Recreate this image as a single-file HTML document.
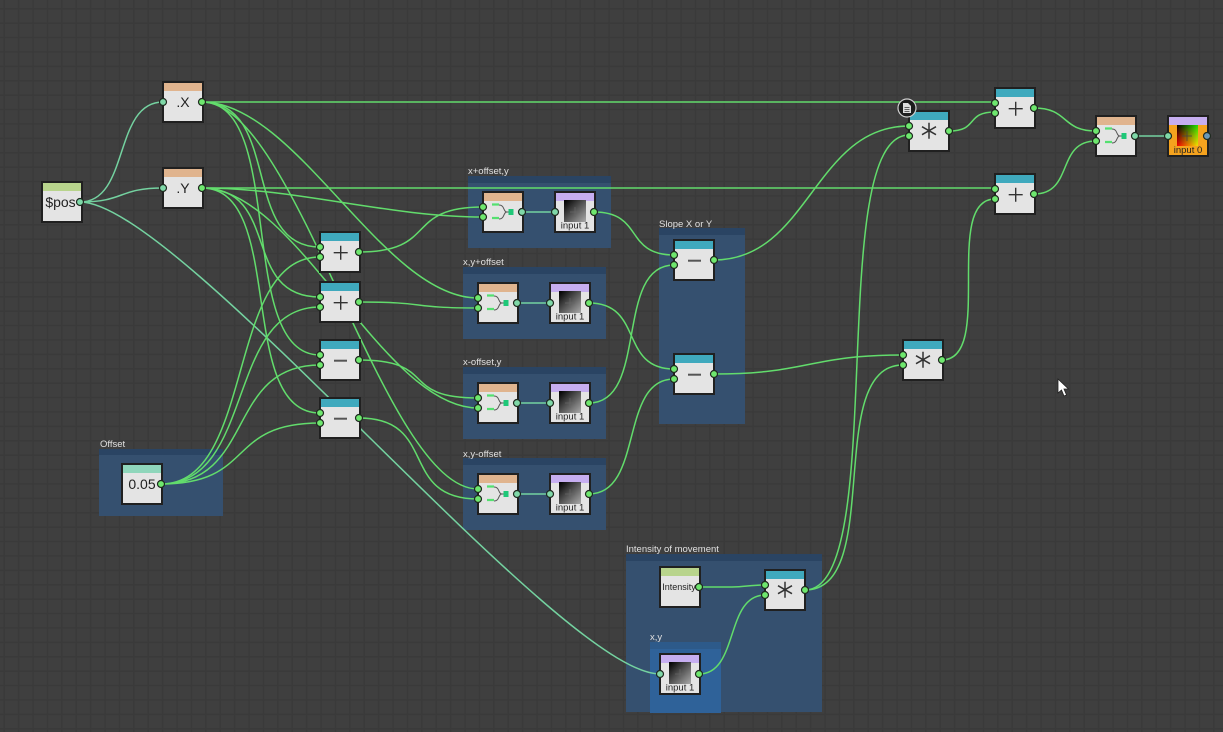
<!DOCTYPE html>
<html><head><meta charset="utf-8"><style>
html,body{margin:0;padding:0;background:#3f3f3f;width:1223px;height:732px;overflow:hidden}
svg{display:block}
text{font-family:"Liberation Sans",sans-serif}
.g{font-size:9.5px;fill:#e0e0e0}
.w path{fill:none;stroke:#62dc6c;stroke-width:1.5}
.t path{fill:none;stroke:#74d2a0;stroke-width:1.5}
.n{fill:#e4e4e4;stroke:#202020;stroke-width:2}
.p{fill:#6ee76e;stroke:#1f2a20;stroke-width:1.2}
.q{fill:#7fd8a8;stroke:#1f2a20;stroke-width:1.2}
.l{font-size:14px;fill:#222;text-anchor:middle}
.s{font-size:9.500px;fill:#222;text-anchor:middle}
</style></head><body>
<svg xmlns="http://www.w3.org/2000/svg" width="1223" height="732" viewBox="0 0 1223 732">
<defs>
<pattern id="grid" x="3.5" y="8" width="14.4" height="14.4" patternUnits="userSpaceOnUse">
<rect width="14.4" height="14.4" fill="#3f3f3f"/>
<rect x="0" width="1.5" height="14.4" fill="#3a3a3a"/>
<rect y="0" width="14.4" height="1.5" fill="#3a3a3a"/>
</pattern>
<linearGradient id="th" x1="0" y1="0" x2="1" y2="1"><stop offset="0.05" stop-color="#050505"/><stop offset="0.5" stop-color="#555"/><stop offset="1" stop-color="#aaa"/></linearGradient>
<linearGradient id="gh" x1="0" y1="0" x2="1" y2="0"><stop offset="0" stop-color="#000"/><stop offset="1" stop-color="#22e000"/></linearGradient>
<linearGradient id="rv" x1="0" y1="0" x2="0" y2="1"><stop offset="0" stop-color="#000"/><stop offset="1" stop-color="#f00000"/></linearGradient>
<g id="thumb"><rect x="10" y="9" width="22" height="22" fill="url(#th)"/><path d="M21 16v10M16 21h10" stroke="#666" stroke-width=".7" fill="none"/></g>
<g id="merge"><path d="M10 13.500h7M10 27h7" stroke="#55e070" stroke-width="2.200"/><path d="M17 14c6 0 4 7 8 7c-4 0-2 7-8 7M25 21h2" stroke="#555" stroke-width="1" fill="none"/><rect x="26.500" y="18" width="5" height="6" fill="#1fc878"/></g>
<path id="plus" d="M14.700 21.700h14M21.700 14.700v14" stroke="#333" stroke-width="1.400" fill="none"/>
<path id="minus" d="M15 21.700h13" stroke="#555" stroke-width="2" fill="none"/>
<path id="star" d="M21 12.700v16M14 16.700l14 8M14 24.700l14-8" stroke="#333" stroke-width="1.500" fill="none"/>
</defs>
<rect width="1223" height="732" fill="url(#grid)"/>

<!-- groups -->
<rect x="99" y="449" width="124" height="67" fill="#35506f"/><rect x="99" y="449" width="124" height="6" fill="#2a4463"/>
<text class="g" x="100" y="447">Offset</text>
<rect x="468" y="176" width="143" height="72" fill="#35506f"/><rect x="468" y="176" width="143" height="7" fill="#2a4463"/>
<text class="g" x="468" y="174">x+offset,y</text>
<rect x="463" y="267" width="143" height="72" fill="#35506f"/><rect x="463" y="267" width="143" height="7" fill="#2a4463"/>
<text class="g" x="463" y="265">x,y+offset</text>
<rect x="463" y="367" width="143" height="72" fill="#35506f"/><rect x="463" y="367" width="143" height="7" fill="#2a4463"/>
<text class="g" x="463" y="365">x-offset,y</text>
<rect x="463" y="458" width="143" height="72" fill="#35506f"/><rect x="463" y="458" width="143" height="7" fill="#2a4463"/>
<text class="g" x="463" y="457">x,y-offset</text>
<rect x="659" y="228" width="86" height="196" fill="#35506f"/><rect x="659" y="228" width="86" height="7" fill="#2a4463"/>
<text class="g" x="659" y="227">Slope X or Y</text>
<rect x="626" y="554" width="196" height="158" fill="#35506f"/><rect x="626" y="554" width="196" height="7" fill="#2a4463"/>
<text class="g" x="626" y="552">Intensity of movement</text>
<rect x="650" y="642" width="71" height="71" fill="#2f6299"/><rect x="650" y="642" width="71" height="7" fill="#2d5a8a"/>
<text class="g" x="650" y="640">x,y</text>

<!-- wires -->
<g class="t">
<path d="M80 202C130 202 113 102 163 102"/>
<path d="M80 202C125 202 118 188 163 188"/>
<path d="M80 202C180 202 560 674 660 674"/>
<path d="M522 212H555M518 303H550M518 403H550M518 494H550M1135 136H1168"/>
</g>
<g class="w">
<path d="M202 102H995"/>
<path d="M202 188H995"/>
<path d="M202 102C282 102 240 247 320 247"/>
<path d="M202 102C287 102 235 355 320 355"/>
<path d="M202 102C297 102 383 298 478 298"/>
<path d="M202 102C297 102 383 489 478 489"/>
<path d="M202 188C282 188 240 297 320 297"/>
<path d="M202 188C287 188 235 413 320 413"/>
<path d="M202 188C297 188 388 217 483 217"/>
<path d="M202 188C297 188 383 408 478 408"/>
<path d="M161 484C256 484 225 257 320 257"/>
<path d="M161 484C256 484 225 307 320 307"/>
<path d="M161 484C256 484 225 365 320 365"/>
<path d="M161 484C256 484 225 423 320 423"/>
<path d="M359 252C439 252 403 207 483 207"/>
<path d="M359 302C429 302 408 308 478 308"/>
<path d="M359 360C439 360 398 398 478 398"/>
<path d="M359 418C439 418 398 499 478 499"/>
<path d="M594 212C644 212 624 255 674 255"/>
<path d="M589 303C644 303 619 369 674 369"/>
<path d="M589 403C649 403 614 265 674 265"/>
<path d="M589 494C644 494 619 379 674 379"/>
<path d="M714 260C809 260 814 126 909 126"/>
<path d="M714 374C809 374 808 355 903 355"/>
<path d="M805 590C890 590 824 135 909 135"/>
<path d="M805 590C885 590 823 365 903 365"/>
<path d="M699 587H732C745 587 750 585 765 585"/>
<path d="M699 674C739 674 725 595 765 595"/>
<path d="M949 131C979 131 965 112 995 112"/>
<path d="M942 360C995 360 942 199 995 199"/>
<path d="M1034 108C1069 108 1061 131 1096 131"/>
<path d="M1034 194C1074 194 1056 141 1096 141"/>
</g>

<!-- nodes -->
<g transform="translate(41,181)"><rect class="n" x="1" y="1" width="40" height="40"/><rect x="2" y="2" width="38" height="8" fill="#b8d48c"/><text class="l" x="19.500" y="26">$pos</text><circle class="q" cx="39" cy="21" r="3.500"/></g>
<g transform="translate(162,81)"><rect class="n" x="1" y="1" width="40" height="40"/><rect x="2" y="2" width="38" height="8" fill="#e0b48e"/><text class="l" x="21" y="26">.X</text><circle class="q" cx="1" cy="21" r="3.500"/><circle class="p" cx="40" cy="21" r="3.500"/></g>
<g transform="translate(162,167)"><rect class="n" x="1" y="1" width="40" height="40"/><rect x="2" y="2" width="38" height="8" fill="#e0b48e"/><text class="l" x="21" y="26">.Y</text><circle class="q" cx="1" cy="21" r="3.500"/><circle class="p" cx="40" cy="21" r="3.500"/></g>
<g transform="translate(121,463)"><rect class="n" x="1" y="1" width="40" height="40"/><rect x="2" y="2" width="38" height="8" fill="#8fd6bb"/><text class="l" x="21" y="26">0.05</text><circle class="p" cx="40" cy="21" r="3.500"/></g>

<g transform="translate(319,231)"><rect class="n" x="1" y="1" width="40" height="40"/><rect x="2" y="2" width="38" height="8" fill="#3fa9bd"/><use href="#plus"/><circle class="p" cx="1" cy="16" r="3.500"/><circle class="p" cx="1" cy="26" r="3.500"/><circle class="p" cx="40" cy="21" r="3.500"/></g>
<g transform="translate(319,281)"><rect class="n" x="1" y="1" width="40" height="40"/><rect x="2" y="2" width="38" height="8" fill="#3fa9bd"/><use href="#plus"/><circle class="p" cx="1" cy="16" r="3.500"/><circle class="p" cx="1" cy="26" r="3.500"/><circle class="p" cx="40" cy="21" r="3.500"/></g>
<g transform="translate(319,339)"><rect class="n" x="1" y="1" width="40" height="40"/><rect x="2" y="2" width="38" height="8" fill="#3fa9bd"/><use href="#minus"/><circle class="p" cx="1" cy="16" r="3.500"/><circle class="p" cx="1" cy="26" r="3.500"/><circle class="p" cx="40" cy="21" r="3.500"/></g>
<g transform="translate(319,397)"><rect class="n" x="1" y="1" width="40" height="40"/><rect x="2" y="2" width="38" height="8" fill="#3fa9bd"/><use href="#minus"/><circle class="p" cx="1" cy="16" r="3.500"/><circle class="p" cx="1" cy="26" r="3.500"/><circle class="p" cx="40" cy="21" r="3.500"/></g>

<g transform="translate(482,191)"><rect class="n" x="1" y="1" width="40" height="40"/><rect x="2" y="2" width="38" height="8" fill="#e0b48e"/><use href="#merge"/><circle class="p" cx="1" cy="16" r="3.500"/><circle class="p" cx="1" cy="26" r="3.500"/><circle class="q" cx="40" cy="21" r="3.500"/></g>
<g transform="translate(554,191)"><rect class="n" x="1" y="1" width="40" height="40"/><rect x="2" y="2" width="38" height="8" fill="#c6aef0"/><use href="#thumb"/><text class="s" x="21" y="37.500">input 1</text><circle class="q" cx="1" cy="21" r="3.500"/><circle class="p" cx="40" cy="21" r="3.500"/></g>
<g transform="translate(477,282)"><rect class="n" x="1" y="1" width="40" height="40"/><rect x="2" y="2" width="38" height="8" fill="#e0b48e"/><use href="#merge"/><circle class="p" cx="1" cy="16" r="3.500"/><circle class="p" cx="1" cy="26" r="3.500"/><circle class="q" cx="40" cy="21" r="3.500"/></g>
<g transform="translate(549,282)"><rect class="n" x="1" y="1" width="40" height="40"/><rect x="2" y="2" width="38" height="8" fill="#c6aef0"/><use href="#thumb"/><text class="s" x="21" y="37.500">input 1</text><circle class="q" cx="1" cy="21" r="3.500"/><circle class="p" cx="40" cy="21" r="3.500"/></g>
<g transform="translate(477,382)"><rect class="n" x="1" y="1" width="40" height="40"/><rect x="2" y="2" width="38" height="8" fill="#e0b48e"/><use href="#merge"/><circle class="p" cx="1" cy="16" r="3.500"/><circle class="p" cx="1" cy="26" r="3.500"/><circle class="q" cx="40" cy="21" r="3.500"/></g>
<g transform="translate(549,382)"><rect class="n" x="1" y="1" width="40" height="40"/><rect x="2" y="2" width="38" height="8" fill="#c6aef0"/><use href="#thumb"/><text class="s" x="21" y="37.500">input 1</text><circle class="q" cx="1" cy="21" r="3.500"/><circle class="p" cx="40" cy="21" r="3.500"/></g>
<g transform="translate(477,473)"><rect class="n" x="1" y="1" width="40" height="40"/><rect x="2" y="2" width="38" height="8" fill="#e0b48e"/><use href="#merge"/><circle class="p" cx="1" cy="16" r="3.500"/><circle class="p" cx="1" cy="26" r="3.500"/><circle class="q" cx="40" cy="21" r="3.500"/></g>
<g transform="translate(549,473)"><rect class="n" x="1" y="1" width="40" height="40"/><rect x="2" y="2" width="38" height="8" fill="#c6aef0"/><use href="#thumb"/><text class="s" x="21" y="37.500">input 1</text><circle class="q" cx="1" cy="21" r="3.500"/><circle class="p" cx="40" cy="21" r="3.500"/></g>

<g transform="translate(673,239)"><rect class="n" x="1" y="1" width="40" height="40"/><rect x="2" y="2" width="38" height="8" fill="#3fa9bd"/><use href="#minus"/><circle class="p" cx="1" cy="16" r="3.500"/><circle class="p" cx="1" cy="26" r="3.500"/><circle class="p" cx="41" cy="21" r="3.500"/></g>
<g transform="translate(673,353)"><rect class="n" x="1" y="1" width="40" height="40"/><rect x="2" y="2" width="38" height="8" fill="#3fa9bd"/><use href="#minus"/><circle class="p" cx="1" cy="16" r="3.500"/><circle class="p" cx="1" cy="26" r="3.500"/><circle class="p" cx="41" cy="21" r="3.500"/></g>

<g transform="translate(659,566)"><rect class="n" x="1" y="1" width="40" height="40"/><rect x="2" y="2" width="38" height="8" fill="#b8d48c"/><text class="s" x="20" y="24" style="font-size:9px">Intensity</text><circle class="p" cx="40" cy="21" r="3.500"/></g>
<g transform="translate(659,653)"><rect class="n" x="1" y="1" width="40" height="40"/><rect x="2" y="2" width="38" height="8" fill="#c6aef0"/><use href="#thumb"/><text class="s" x="21" y="37.500">input 1</text><circle class="q" cx="1" cy="21" r="3.500"/><circle class="p" cx="40" cy="21" r="3.500"/></g>
<g transform="translate(764,569)"><rect class="n" x="1" y="1" width="40" height="40"/><rect x="2" y="2" width="38" height="8" fill="#3fa9bd"/><use href="#star"/><circle class="p" cx="1" cy="16" r="3.500"/><circle class="p" cx="1" cy="26" r="3.500"/><circle class="p" cx="41" cy="21" r="3.500"/></g>

<g transform="translate(908,110)"><rect class="n" x="1" y="1" width="40" height="40"/><rect x="2" y="2" width="38" height="8" fill="#3fa9bd"/><use href="#star"/><circle class="p" cx="1" cy="16" r="3.500"/><circle class="p" cx="1" cy="26" r="3.500"/><circle class="p" cx="41" cy="21" r="3.500"/></g>
<g transform="translate(902,339)"><rect class="n" x="1" y="1" width="40" height="40"/><rect x="2" y="2" width="38" height="8" fill="#3fa9bd"/><use href="#star"/><circle class="p" cx="1" cy="16" r="3.500"/><circle class="p" cx="1" cy="26" r="3.500"/><circle class="p" cx="40" cy="21" r="3.500"/></g>
<g transform="translate(994,87)"><rect class="n" x="1" y="1" width="40" height="40"/><rect x="2" y="2" width="38" height="8" fill="#3fa9bd"/><use href="#plus"/><circle class="p" cx="1" cy="16" r="3.500"/><circle class="p" cx="1" cy="26" r="3.500"/><circle class="p" cx="40" cy="21" r="3.500"/></g>
<g transform="translate(994,173)"><rect class="n" x="1" y="1" width="40" height="40"/><rect x="2" y="2" width="38" height="8" fill="#3fa9bd"/><use href="#plus"/><circle class="p" cx="1" cy="16" r="3.500"/><circle class="p" cx="1" cy="26" r="3.500"/><circle class="p" cx="40" cy="21" r="3.500"/></g>
<g transform="translate(1095,115)"><rect class="n" x="1" y="1" width="40" height="40"/><rect x="2" y="2" width="38" height="8" fill="#e0b48e"/><use href="#merge"/><circle class="p" cx="1" cy="16" r="3.500"/><circle class="p" cx="1" cy="26" r="3.500"/><circle class="q" cx="40" cy="21" r="3.500"/></g>
<g transform="translate(1167,115)"><rect x="1" y="1" width="40" height="40" fill="#f5a31e" stroke="#202020" stroke-width="2"/><rect x="2" y="2" width="38" height="8" fill="#c6aef0"/>
<rect x="10" y="10" width="21" height="21" fill="url(#gh)"/><rect x="10" y="10" width="21" height="21" fill="url(#rv)" style="mix-blend-mode:screen"/><path d="M20 16v10M15 21h10" stroke="#444" stroke-width=".7"/>
<text class="s" x="21" y="38">input 0</text><circle class="q" cx="1" cy="21" r="3.500"/><circle cx="40" cy="21" r="3.500" fill="#6b98b8" stroke="#1f2a20" stroke-width="1.200"/></g>

<!-- doc icon -->
<circle cx="907" cy="108" r="9" fill="#1c1c1c" stroke="#cfcfcf" stroke-width="1.200"/>
<path d="M903 103h5l3 3v7h-8z" fill="#dcdcdc"/><path d="M904.500 107.500h5M904.500 109.500h5M904.500 111.500h5" stroke="#333" stroke-width=".7"/>

<!-- cursor -->
<path d="M1058 379v14l3.500-3 2.500 6 2.500-1-2.500-6h4.500z" fill="#fff" stroke="#222" stroke-width=".8"/>
</svg>
</body></html>
